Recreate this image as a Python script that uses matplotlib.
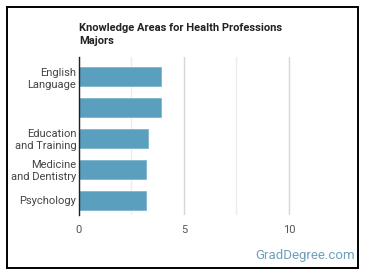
import matplotlib
matplotlib.use("Agg")
import matplotlib.pyplot as plt
from matplotlib.patches import Rectangle
from matplotlib.ticker import FixedLocator

categories = ["English\nLanguage", "", "Education\nand Training", "Medicine\nand Dentistry", "Psychology"]
values = [3.9, 3.9, 3.3, 3.2, 3.2]
xticks = [0, 5, 10]
xtick_labels = ["0", "5", "10"]
minor_ticks = [2.5, 7.5]
title = "Knowledge Areas for Health Professions\nMajors"
watermark = "GradDegree.com"

W, H = 370, 278
plt.rcParams['font.family'] = ['Roboto', 'DejaVu Sans']
fig = plt.figure(figsize=(W / 100, H / 100), dpi=100)
fig.patch.set_facecolor('white')

def fx(px):
    return px / W

def fy(py):
    return 1 - py / H

left, right, top, bottom = 79, 341, 57, 215
ax = fig.add_axes([fx(left), fy(bottom), fx(right - left), (bottom - top) / H])

pos = list(range(len(categories)))
ax.barh(pos, values, height=0.61, color='#5b9fbe', edgecolor='#7db6cf', linewidth=0.6, zorder=3)
ax.set_ylim(4.47, -0.63)
ax.set_xlim(0, 12.48)
ax.set_yticks(pos)
ax.set_yticklabels(categories, fontsize=8, color='#444444', linespacing=1.25)
ax.set_xticks(xticks)
ax.set_xticklabels(xtick_labels, fontsize=8, color='#555555')
ax.xaxis.set_minor_locator(FixedLocator(minor_ticks))
ax.grid(axis='x', which='major', color='#d6d6d6', linewidth=1, zorder=0)
ax.grid(axis='x', which='minor', color='#ececec', linewidth=1, zorder=0)
ax.tick_params(axis='both', which='both', length=0)
ax.tick_params(axis='x', pad=7)
ax.tick_params(axis='y', pad=2)
for s in ['top', 'right', 'bottom']:
    ax.spines[s].set_visible(False)
ax.spines['left'].set_color('#222222')
ax.spines['left'].set_linewidth(1)
ax.spines['left'].set_zorder(4)

fig.text(fx(79), fy(23), title, fontsize=8, fontweight='bold', color='#222222',
         ha='left', va='top', linespacing=1.35)
fig.text(fx(355), fy(255), watermark, fontsize=9.5, color='#6e9fbd', ha='right', va='center')

fig.patches.append(Rectangle((fx(7), fy(268)), fx(358 - 7), (268 - 7) / H,
                             transform=fig.transFigure, fill=False,
                             edgecolor='black', linewidth=1.4))

fig.savefig('out.png', dpi=100)
